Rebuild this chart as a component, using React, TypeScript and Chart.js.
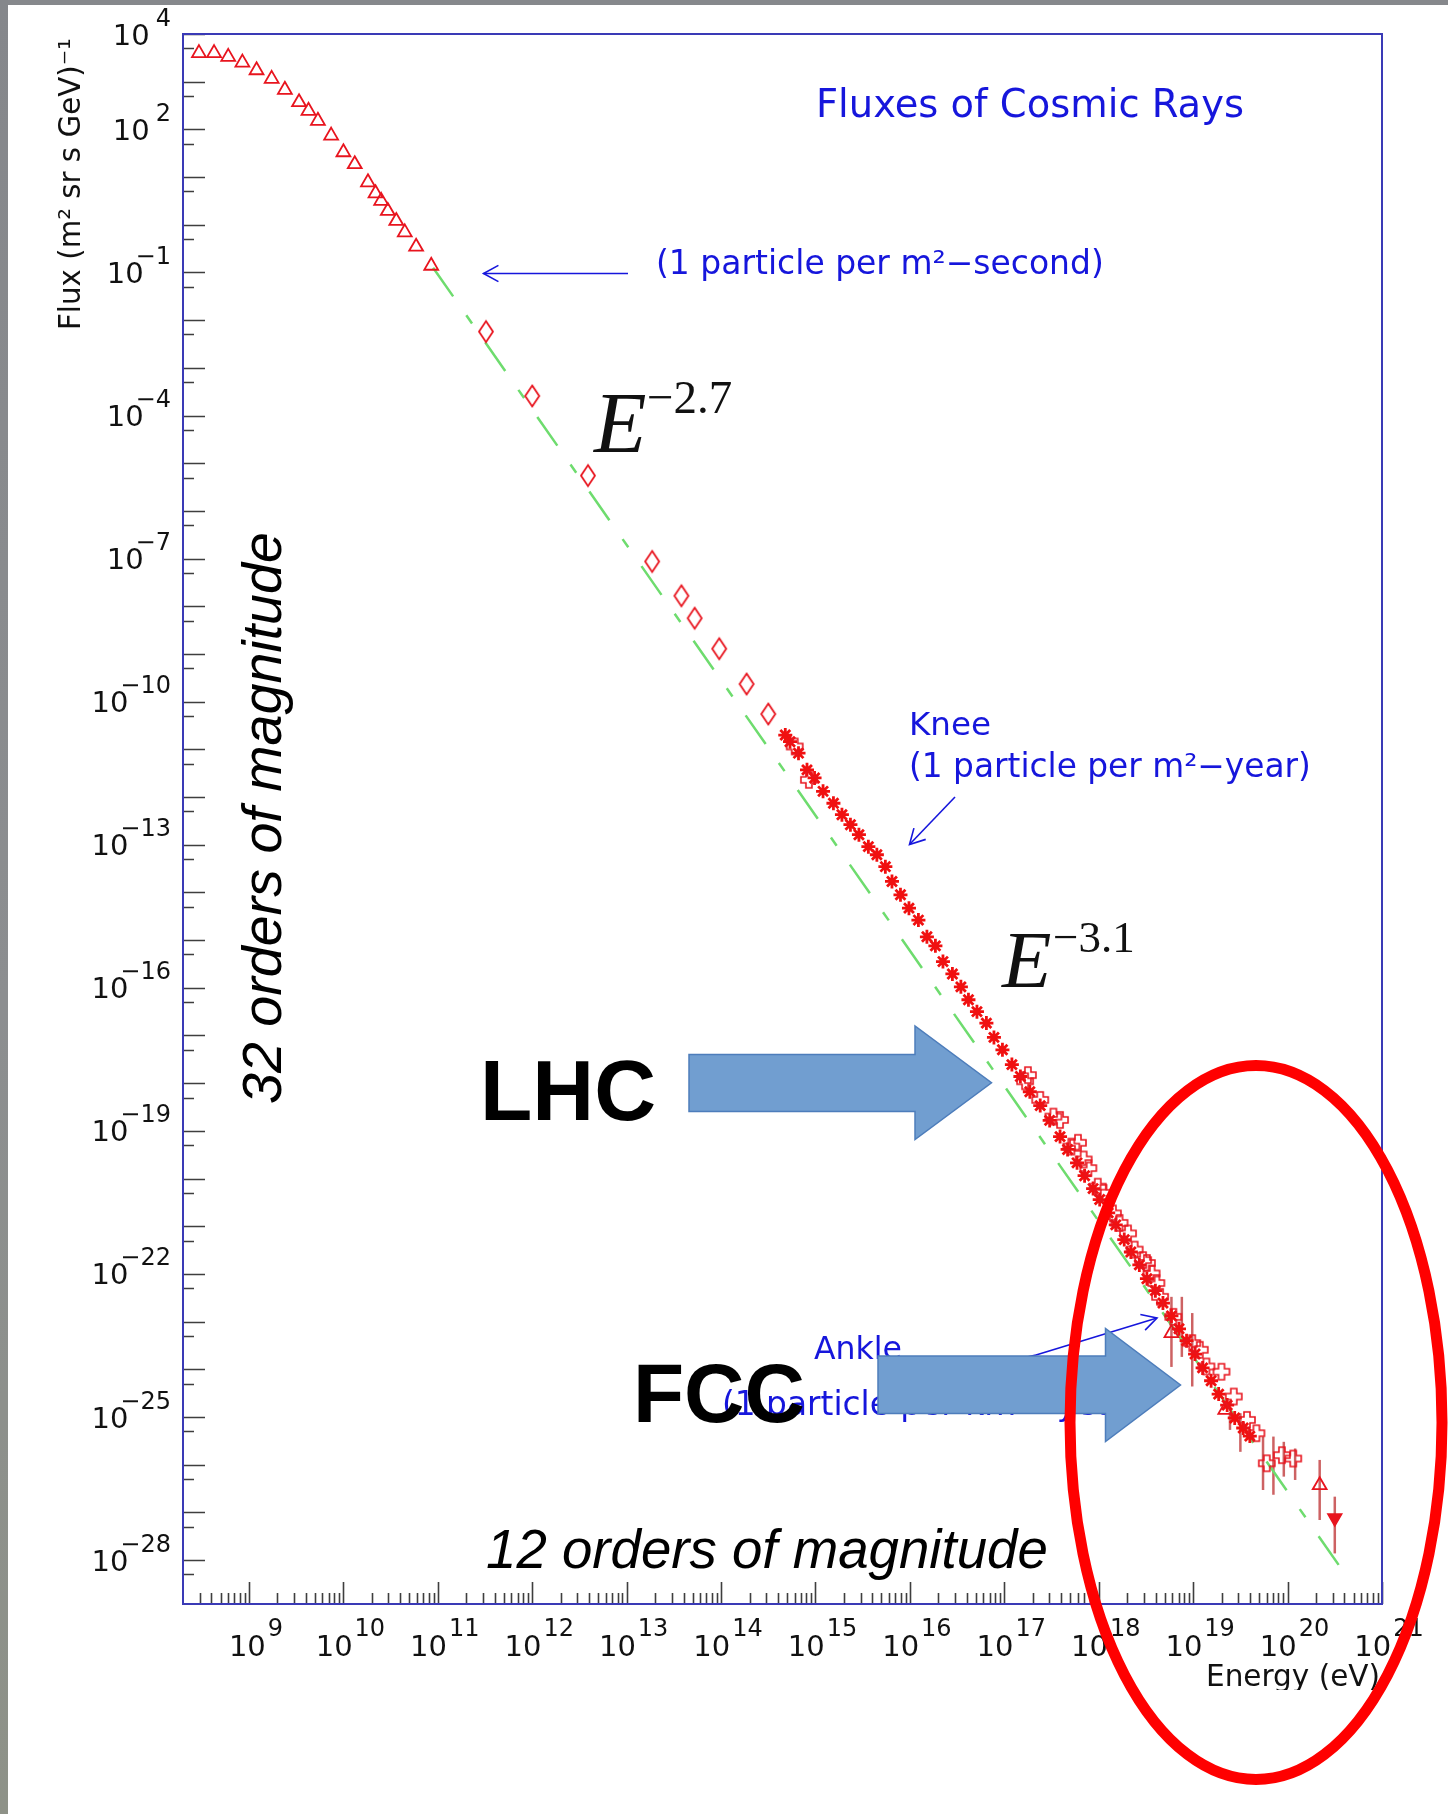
import React, { useEffect, useRef } from 'react';
import { Chart, registerables } from 'chart.js';

Chart.register(...registerables);

// ---------------- axis ranges ----------------
const ENERGY_MIN = 2e8; // eV
const ENERGY_MAX = 1e21; // eV
const FLUX_MIN = 1.2e-29;
const FLUX_MAX = 1e4;

const yLabelExponents = [4, 2, -1, -4, -7, -10, -13, -16, -19, -22, -25, -28];
const xLabelExponents = [9, 10, 11, 12, 13, 14, 15, 16, 17, 18, 19, 20, 21];

// ---------------- data (log10 E [eV], log10 flux) ----------------
const lowTriLogE = [8.47, 8.63, 8.78, 8.93, 9.08, 9.24, 9.38, 9.53, 9.63, 9.73, 9.87, 10.0, 10.12, 10.26, 10.34, 10.4, 10.47, 10.56, 10.65, 10.77, 10.93];
const lowTriLogF = [3.6, 3.6, 3.52, 3.4, 3.24, 3.06, 2.83, 2.57, 2.39, 2.18, 1.87, 1.52, 1.27, 0.89, 0.66, 0.5, 0.29, 0.08, -0.16, -0.46, -0.86];

const diamondLogE = [11.51, 12.0, 12.59, 13.27, 13.58, 13.72, 13.98, 14.27, 14.5];
const diamondLogF = [-2.24, -3.59, -5.26, -7.06, -7.78, -8.25, -8.89, -9.63, -10.26];

const starLogE = [14.68, 14.73, 14.82, 14.91, 14.99, 15.08, 15.19, 15.28, 15.37, 15.46, 15.56, 15.65, 15.74, 15.81, 15.9, 15.99, 16.09, 16.18, 16.27, 16.35, 16.45, 16.54, 16.62, 16.71, 16.81, 16.89, 16.98, 17.08, 17.17,
  17.27, 17.38, 17.48, 17.59, 17.67, 17.77, 17.85, 17.94, 18.01, 18.1, 18.18, 18.27, 18.34, 18.43, 18.51, 18.6, 18.68, 18.77, 18.85, 18.93, 19.02, 19.1, 19.19, 19.27, 19.36, 19.44, 19.53, 19.6];
const starLogF = [-10.7, -10.84, -11.08, -11.43, -11.6, -11.88, -12.13, -12.37, -12.58, -12.79, -13.04, -13.21, -13.46, -13.77, -14.05, -14.33, -14.58, -14.93, -15.12, -15.45, -15.71, -15.98, -16.25, -16.5, -16.74, -17.04, -17.3, -17.61, -17.86,
  -18.18, -18.47, -18.78, -19.12, -19.39, -19.67, -19.94, -20.21, -20.44, -20.72, -20.97, -21.28, -21.54, -21.81, -22.1, -22.35, -22.61, -22.88, -23.15, -23.4, -23.68, -23.97, -24.24, -24.52, -24.75, -25.02, -25.23, -25.4];

const crossLogE = [14.78, 14.93, 17.22, 17.25, 17.38, 17.52, 17.59, 17.71, 17.78, 17.84, 17.89, 17.99, 18.05, 18.15, 18.22, 18.31, 18.38, 18.47, 18.51, 18.56, 18.61, 18.65, 18.79, 18.99, 19.07, 19.14, 19.3, 19.43, 19.57, 19.67, 19.78, 19.94, 20.06];
const crossLogF = [-10.94, -11.64, -17.96, -17.83, -18.35, -18.7, -18.77, -19.33, -19.25, -19.6, -19.78, -20.17, -20.3, -20.73, -20.93, -21.15, -21.49, -21.71, -21.77, -21.99, -22.19, -22.48, -22.9, -23.45, -23.59, -23.94, -24.05, -24.57, -25.06, -25.34, -25.97, -25.8, -25.87];

const highTriLogE = [18.77, 19.34, 20.34];
const highTriLogF = [-23.24, -24.85, -26.43];

const limitLogE = [20.5];
const limitLogF = [-27.12];

const errLogE = [18.77, 18.88, 18.99, 19.39, 19.5, 19.74, 19.85, 19.96, 20.08, 20.34, 20.5];
const errLogLow = [-23.95, -23.74, -24.36, -25.27, -25.73, -26.53, -26.63, -26.25, -26.32, -27.16, -27.86];
const errLogHigh = [-22.48, -22.48, -22.82, -24.89, -24.92, -25.41, -25.41, -25.52, -25.66, -25.9, -26.67];

// E^-2.7 guide line end points
const fitLogE = [10.95, 20.65];
const fitLogF = [-0.9, -28.41];

// ---------------- helpers ----------------
const W = 1448;
const H = 1814;
const RED = '#e8141e';
const BLUE_TXT = '#1616dc';
const DJ = '"DejaVu Sans"';

const toPts = (le: number[], lf: number[]) => le.map((e, i) => ({ x: 10 ** e, y: 10 ** lf[i] }));

function makeMarker(w: number, h: number, draw: (g: CanvasRenderingContext2D) => void) {
  const c = document.createElement('canvas');
  c.width = w;
  c.height = h;
  const g = c.getContext('2d') as CanvasRenderingContext2D;
  draw(g);
  return c;
}

function fitSize(ctx: CanvasRenderingContext2D, text: string, font: (s: number) => string, target: number) {
  ctx.font = font(100);
  const w = ctx.measureText(text).width;
  return (100 * target) / w;
}

function fitText(ctx: CanvasRenderingContext2D, text: string, font: (s: number) => string, x: number, y: number, target: number, color: string) {
  const s = fitSize(ctx, text, font, target);
  ctx.font = font(s);
  ctx.fillStyle = color;
  ctx.textAlign = 'left';
  ctx.fillText(text, x, y);
  return s;
}

function lineArrow(ctx: CanvasRenderingContext2D, x1: number, y1: number, x2: number, y2: number, color: string) {
  ctx.strokeStyle = color;
  ctx.lineWidth = 1.6;
  ctx.beginPath();
  ctx.moveTo(x1, y1);
  ctx.lineTo(x2, y2);
  ctx.stroke();
  const a = Math.atan2(y2 - y1, x2 - x1);
  const L = 17;
  const sp = 0.5;
  ctx.beginPath();
  ctx.moveTo(x2 - L * Math.cos(a - sp), y2 - L * Math.sin(a - sp));
  ctx.lineTo(x2, y2);
  ctx.lineTo(x2 - L * Math.cos(a + sp), y2 - L * Math.sin(a + sp));
  ctx.stroke();
}

function blockArrow(ctx: CanvasRenderingContext2D, x0: number, yTop: number, yBot: number, xHead: number, hTop: number, hBot: number, xTip: number) {
  ctx.beginPath();
  ctx.moveTo(x0, yTop);
  ctx.lineTo(xHead, yTop);
  ctx.lineTo(xHead, hTop);
  ctx.lineTo(xTip, (hTop + hBot) / 2);
  ctx.lineTo(xHead, hBot);
  ctx.lineTo(xHead, yBot);
  ctx.lineTo(x0, yBot);
  ctx.closePath();
  ctx.fillStyle = '#719ed0';
  ctx.fill();
  ctx.strokeStyle = '#4d7dbb';
  ctx.lineWidth = 1.5;
  ctx.stroke();
}

const rootPlugin = {
  id: 'rootStyle',
  beforeDraw(chart: any) {
    const ctx = chart.ctx as CanvasRenderingContext2D;
    ctx.save();
    ctx.fillStyle = '#ffffff';
    ctx.fillRect(0, 0, W, H);
    ctx.fillStyle = '#86888c';
    ctx.fillRect(0, 0, W, 5);
    const g = ctx.createLinearGradient(0, 0, 0, H);
    g.addColorStop(0, '#85878b');
    g.addColorStop(0.55, '#8c8e90');
    g.addColorStop(1, '#8e9288');
    ctx.fillStyle = g;
    ctx.fillRect(0, 0, 8, H);
    ctx.restore();
  },
  beforeDatasetsDraw(chart: any) {
    const ctx = chart.ctx as CanvasRenderingContext2D;
    const xs = chart.scales.x;
    const ys = chart.scales.y;
    ctx.save();
    ctx.strokeStyle = 'rgba(196,70,72,0.85)';
    ctx.lineWidth = 2.5;
    errLogE.forEach((e, i) => {
      const x = xs.getPixelForValue(10 ** e);
      ctx.beginPath();
      ctx.moveTo(x, ys.getPixelForValue(10 ** errLogHigh[i]));
      ctx.lineTo(x, ys.getPixelForValue(10 ** errLogLow[i]));
      ctx.stroke();
    });
    ctx.restore();
  },
  afterDatasetsDraw(chart: any) {
    const ctx = chart.ctx as CanvasRenderingContext2D;
    const xs = chart.scales.x;
    const ys = chart.scales.y;
    const { left, right, top, bottom } = chart.chartArea;
    ctx.save();

    // ---- ticks ----
    ctx.strokeStyle = '#3e3e3e';
    ctx.lineWidth = 1.6;
    ctx.beginPath();
    for (let n = -29; n <= 4; n++) {
      const major = Math.pow(10, n);
      if (major >= FLUX_MIN && major <= FLUX_MAX * 1.0001) {
        const y = Math.round(ys.getPixelForValue(major)) + 0.5;
        ctx.moveTo(left, y);
        ctx.lineTo(left + 22, y);
      }
      const minor = 5 * Math.pow(10, n - 1);
      if (minor >= FLUX_MIN && minor <= FLUX_MAX) {
        const y = Math.round(ys.getPixelForValue(minor)) + 0.5;
        ctx.moveTo(left, y);
        ctx.lineTo(left + 11, y);
      }
    }
    for (let n = 8; n <= 21; n++) {
      for (let m = 1; m <= 9; m++) {
        const v = m * Math.pow(10, n);
        if (v < ENERGY_MIN * 1.0001 || v > ENERGY_MAX * 1.0001) continue;
        const x = Math.round(xs.getPixelForValue(v)) + 0.5;
        ctx.moveTo(x, bottom);
        ctx.lineTo(x, bottom - (m === 1 ? 22 : 11));
      }
    }
    ctx.stroke();

    // ---- frame ----
    ctx.strokeStyle = '#3a3ab6';
    ctx.lineWidth = 2;
    ctx.strokeRect(left, top, right - left, bottom - top);

    // ---- tick labels ----
    ctx.fillStyle = '#111111';
    ctx.textBaseline = 'alphabetic';
    const mainFont = `29px ${DJ}`;
    const expFont = `24px ${DJ}`;
    yLabelExponents.forEach((n) => {
      const y = ys.getPixelForValue(Math.pow(10, n));
      const es = n < 0 ? '\u2212' + Math.abs(n) : String(n);
      ctx.font = expFont;
      const ew = ctx.measureText(es).width;
      const ex = 171 - ew;
      ctx.textAlign = 'left';
      ctx.fillText(es, ex, y + 10.5 - 19);
      ctx.font = mainFont;
      ctx.textAlign = 'right';
      ctx.fillText('10', n < 0 ? ex + 8 : ex - 6, y + 10.5);
    });
    xLabelExponents.forEach((n) => {
      const x = xs.getPixelForValue(Math.pow(10, n));
      const es = String(n);
      ctx.font = mainFont;
      const w10 = ctx.measureText('10').width;
      ctx.font = expFont;
      const ew = ctx.measureText(es).width;
      const total = w10 + 2 + ew;
      const sx = x + 7 - total / 2;
      ctx.textAlign = 'left';
      ctx.font = mainFont;
      ctx.fillText('10', sx, 1656);
      ctx.font = expFont;
      ctx.fillText(es, sx + w10 + 2, 1636);
    });

    // ---- axis titles ----
    ctx.save();
    ctx.beginPath();
    ctx.rect(1150, 1650, 260, 40);
    ctx.clip();
    ctx.font = `29.5px ${DJ}`;
    ctx.textAlign = 'right';
    ctx.fillStyle = '#111111';
    ctx.fillText('Energy (eV)', 1380, 1686);
    ctx.restore();

    ctx.save();
    ctx.translate(80, 330);
    ctx.rotate(-Math.PI / 2);
    fitText(ctx, 'Flux (m\u00b2 sr s GeV)\u207b\u00b9', (s) => `${s}px ${DJ}`, 0, 0, 292, '#111111');
    ctx.restore();

    // ---- orders of magnitude ----
    ctx.save();
    ctx.translate(281, 1104);
    ctx.rotate(-Math.PI / 2);
    fitText(ctx, '32 orders of magnitude', (s) => `italic ${s}px "Liberation Sans"`, 0, 0, 572, '#000000');
    ctx.restore();
    fitText(ctx, '12 orders of magnitude', (s) => `italic ${s}px "Liberation Sans"`, 486, 1568, 562, '#000000');

    // ---- blue annotations ----
    const blueFont = (s: number) => `${s}px ${DJ}`;
    fitText(ctx, 'Fluxes of Cosmic Rays', blueFont, 816, 117, 428, BLUE_TXT);
    fitText(ctx, '(1 particle per m\u00b2\u2212second)', blueFont, 656, 274, 448, BLUE_TXT);
    lineArrow(ctx, 628, 273.5, 483.5, 273.5, BLUE_TXT);
    fitText(ctx, 'Knee', blueFont, 909, 735, 82, BLUE_TXT);
    const kneeSize = fitText(ctx, '(1 particle per m\u00b2\u2212year)', blueFont, 909, 777, 402, BLUE_TXT);
    lineArrow(ctx, 955, 797, 909.5, 844.5, BLUE_TXT);

    fitText(ctx, 'Ankle', blueFont, 814, 1359, 88, BLUE_TXT);
    ctx.font = blueFont(kneeSize);
    ctx.fillStyle = BLUE_TXT;
    ctx.textAlign = 'left';
    ctx.fillText('(1 particle per km\u00b2\u2212year)', 722, 1415);
    // ankle arrow
    ctx.strokeStyle = BLUE_TXT;
    ctx.lineWidth = 1.6;
    ctx.beginPath();
    ctx.moveTo(905, 1372);
    ctx.quadraticCurveTo(990, 1366, 1036, 1355);
    ctx.stroke();
    lineArrow(ctx, 1036, 1355, 1157, 1318, BLUE_TXT);

    // ---- power law labels ----
    ctx.fillStyle = '#111111';
    ctx.textAlign = 'left';
    ctx.font = `italic 86px "Liberation Serif"`;
    ctx.fillText('E', 594, 452);
    ctx.font = `47px "Liberation Serif"`;
    ctx.fillText('\u22122.7', 647, 413);
    ctx.font = `italic 81px "Liberation Serif"`;
    ctx.fillText('E', 1002, 987);
    ctx.font = `45px "Liberation Serif"`;
    ctx.fillText('\u22123.1', 1053, 952);

    // ---- block arrows ----
    blockArrow(ctx, 689, 1054.5, 1111.5, 915, 1026, 1139.5, 991.5);
    blockArrow(ctx, 878, 1356, 1413.5, 1105.5, 1328.5, 1441.5, 1180.5);

    // ---- LHC / FCC ----
    fitText(ctx, 'LHC', (s) => `bold ${s}px "Liberation Sans"`, 480, 1120, 176, '#000000');
    fitText(ctx, 'FCC', (s) => `bold ${s}px "Liberation Sans"`, 633, 1422, 172, '#000000');

    // ---- red ellipse ----
    ctx.beginPath();
    ctx.ellipse(1256, 1422.5, 186, 357, 0, 0, Math.PI * 2);
    ctx.strokeStyle = '#ff0000';
    ctx.lineWidth = 11;
    ctx.stroke();

    ctx.restore();
  },
};

export default function App() {
  const canvasRef = useRef<HTMLCanvasElement | null>(null);

  useEffect(() => {
    const canvas = canvasRef.current;
    if (!canvas) return;

    const diamond = makeMarker(18, 26, (g) => {
      g.strokeStyle = RED;
      g.lineWidth = 1.8;
      g.beginPath();
      g.moveTo(9, 2.5);
      g.lineTo(16, 13);
      g.lineTo(9, 23.5);
      g.lineTo(2, 13);
      g.closePath();
      g.stroke();
    });
    const openCross = makeMarker(20, 20, (g) => {
      g.strokeStyle = RED;
      g.lineWidth = 1.6;
      g.beginPath();
      const p = [[7, 2], [13, 2], [13, 7], [18, 7], [18, 13], [13, 13], [13, 18], [7, 18], [7, 13], [2, 13], [2, 7], [7, 7]];
      p.forEach(([x, y], i) => (i === 0 ? g.moveTo(x, y) : g.lineTo(x, y)));
      g.closePath();
      g.stroke();
    });

    const chart = new Chart(canvas, {
      type: 'scatter',
      data: {
        datasets: [
          {
            label: 'limit',
            data: toPts(limitLogE, limitLogF),
            pointStyle: 'triangle',
            pointRotation: 180,
            pointRadius: 8,
            pointBorderColor: RED,
            pointBackgroundColor: RED,
            pointBorderWidth: 1.5,
            order: 1,
          },
          {
            label: 'highTri',
            data: toPts(highTriLogE, highTriLogF),
            pointStyle: 'triangle',
            pointRadius: 8,
            pointBorderColor: RED,
            pointBackgroundColor: 'rgba(0,0,0,0)',
            pointBorderWidth: 1.8,
            order: 2,
          },
          {
            label: 'crosses',
            data: toPts(crossLogE, crossLogF),
            pointStyle: openCross,
            pointRadius: 8,
            order: 3,
          },
          {
            label: 'stars',
            data: toPts(starLogE, starLogF),
            pointStyle: 'star',
            pointRadius: 7,
            pointBorderColor: '#f01010',
            pointBackgroundColor: '#f01010',
            pointBorderWidth: 2.8,
            order: 4,
          },
          {
            label: 'lowTri',
            data: toPts(lowTriLogE, lowTriLogF),
            pointStyle: 'triangle',
            pointRadius: 8,
            pointBorderColor: RED,
            pointBackgroundColor: 'rgba(0,0,0,0)',
            pointBorderWidth: 1.8,
            order: 5,
          },
          {
            label: 'diamonds',
            data: toPts(diamondLogE, diamondLogF),
            pointStyle: diamond,
            pointRadius: 9,
            order: 6,
          },
          {
            label: 'fit',
            data: toPts(fitLogE, fitLogF),
            showLine: true,
            fill: false,
            tension: 0,
            borderColor: '#6edc6e',
            borderWidth: 2.5,
            borderDash: [35, 23, 10, 23],
            pointRadius: 0,
            order: 10,
          },
        ],
      },
      options: {
        responsive: false,
        maintainAspectRatio: false,
        devicePixelRatio: 1,
        animation: false,
        events: [],
        layout: { padding: { left: 183, top: 34, right: 66, bottom: 210 } },
        plugins: { legend: { display: false }, tooltip: { enabled: false }, title: { display: false } },
        scales: {
          x: { type: 'logarithmic', min: ENERGY_MIN, max: ENERGY_MAX, display: false },
          y: { type: 'logarithmic', min: FLUX_MIN, max: FLUX_MAX, display: false },
        },
      },
      plugins: [rootPlugin],
    } as any);

    return () => chart.destroy();
  }, []);

  return (
    <div style={{ position: 'absolute', left: 0, top: 0, width: W, height: H, background: '#ffffff' }}>
      <canvas ref={canvasRef} width={W} height={H} style={{ display: 'block', width: W + 'px', height: H + 'px' }} />
    </div>
  );
}
